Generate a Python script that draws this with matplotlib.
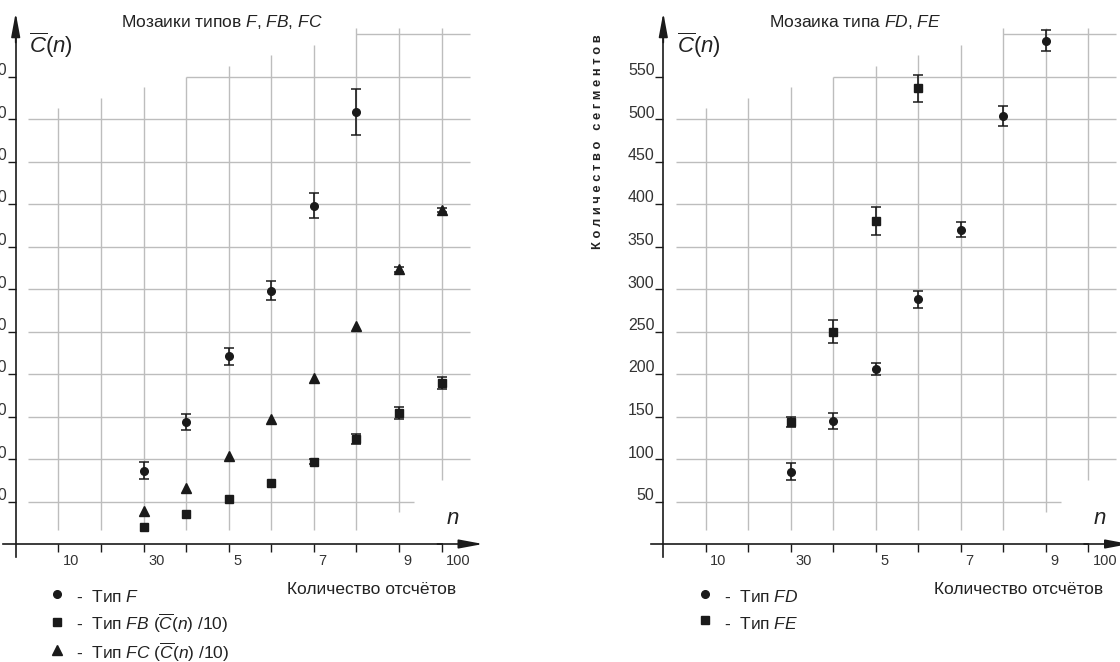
import matplotlib
matplotlib.use('Agg')
import matplotlib.pyplot as plt
import matplotlib.transforms as mtransforms

plt.rcParams['font.family'] = ['Liberation Sans', 'DejaVu Sans']
plt.rcParams['mathtext.fontset'] = 'custom'
plt.rcParams['mathtext.rm'] = 'Liberation Sans'
plt.rcParams['mathtext.it'] = 'Liberation Sans:italic'
plt.rcParams['mathtext.bf'] = 'Liberation Sans:bold'

nan = float('nan')

# ---- data ----
# left panel: mosaics F, FB, FC
f_n = [30, 40, 50, 60, 70, 80]
f_mean = [86, 144, 221, 298, 398, 508]
f_err = [10, 9.5, 10, 11, 15, 27]

fb_n = [30, 40, 50, 60, 70, 80, 90, 100]
fb_mean = [20, 35, 53, 72, 97, 124, 154, 189]
fb_err = [nan, nan, nan, nan, 3, 6, 7.5, 7]

fc_n = [30, 40, 50, 60, 70, 80, 90, 100]
fc_mean = [39, 65.5, 104, 147.5, 195, 256.5, 323, 393]
fc_err = [nan, nan, nan, nan, nan, nan, 3, 2]

# right panel: mosaics FD, FE
fd_n = [30, 40, 50, 60, 70, 80, 90]
fd_mean = [85, 145, 206, 288, 370, 503.5, 592]
fd_err = [10, 9.5, 7.5, 10, 8.5, 11.5, 12.5]

fe_n = [30, 40, 50, 60]
fe_mean = [144, 250, 380, 536]
fe_err = [6, 13, 17, 16]

y_ticks = [50, 100, 150, 200, 250, 300, 350, 400, 450, 500, 550]
x_ticks = [10, 20, 30, 40, 50, 60, 70, 80, 90, 100]
x_ticklabels = ['10', '', '30', '', '5', '', '7', '', '9', '100']

# ---- grid layout of the original drawing (staircase shaped) ----
vgrid_top = [513, 525, 538, 550, 562, 575, 587, 607, 607, 607]
vgrid_bottom = [16, 16, 16, 16, 16, 16, 16, 16, 38, 75]
hgrid_start = [3, 3, 3, 3, 3, 3, 3, 3, 3, 3, 40]
hgrid_end = [93.5, 106.6, 106.6, 106.6, 106.6, 106.6, 106.6, 106.6, 106.6, 106.6, 106.6]

GRID = '#bdbdbd'
INK = '#1a1a1a'
W, H = 1120, 662

fig = plt.figure(figsize=(W / 100, H / 100), dpi=100)


def make_axes(x0_px, ppu):
    # axes placed so that data x=0 sits at x0_px, y=0 at 544 px from top
    xlo, xhi = -3.5, 112
    ylo, yhi = -20, 630
    left = (x0_px + xlo * ppu) / W
    width = (xhi - xlo) * ppu / W
    bottom = (H - (544 - ylo * 0.85)) / H
    height = (yhi - ylo) * 0.85 / H
    ax = fig.add_axes([left, bottom, width, height])
    ax.set_xlim(xlo, xhi)
    ax.set_ylim(ylo, yhi)
    ax.patch.set_visible(False)
    return ax


def decorate(ax, title):
    # grid
    ax.vlines(x_ticks, vgrid_bottom, vgrid_top, color=GRID, lw=1.0, zorder=1)
    ax.hlines(y_ticks, hgrid_start, hgrid_end, color=GRID, lw=1.0, zorder=1)
    ax.hlines([600], [80], [106.6], color=GRID, lw=1.0, zorder=1)

    # axes lines through the origin
    for s in ['top', 'right']:
        ax.spines[s].set_visible(False)
    ax.spines['left'].set_position(('data', 0))
    ax.spines['bottom'].set_position(('data', 0))
    ax.spines['left'].set_bounds(-15, 600)
    ax.spines['bottom'].set_bounds(-3, 100)
    for s in ['left', 'bottom']:
        ax.spines[s].set_linewidth(1.2)
        ax.spines[s].set_color(INK)
    arrow = dict(arrowstyle='-|>,head_length=1.45,head_width=0.27', color=INK,
                 lw=1.2, shrinkA=0, shrinkB=0, mutation_scale=10)
    ax.annotate('', xy=(0, 625), xytext=(0, 590), arrowprops=arrow,
                annotation_clip=False)
    ax.annotate('', xy=(109.7, 0), xytext=(99, 0), arrowprops=arrow,
                annotation_clip=False)

    # ticks
    ax.set_yticks(y_ticks)
    ax.set_yticklabels([str(v) for v in y_ticks])
    ax.set_xticks(x_ticks)
    ax.set_xticklabels(x_ticklabels)
    ax.tick_params(axis='y', direction='out', length=5.8, width=1.0, pad=0.5,
                   labelsize=11.5, labelcolor='#333333', color=INK)
    ax.tick_params(axis='x', direction='out', length=6.0, width=1.0, pad=1.0,
                   labelsize=10.5, labelcolor='#333333', color=INK)
    up = mtransforms.ScaledTranslation(0, 0.015, fig.dpi_scale_trans)
    for lab in ax.get_yticklabels():
        lab.set_verticalalignment('baseline')
        lab.set_transform(lab.get_transform() + up)
    right = mtransforms.ScaledTranslation(0.045, 0, fig.dpi_scale_trans)
    for lab in ax.get_xticklabels():
        lab.set_horizontalalignment('left')
        lab.set_transform(lab.get_transform() + right)

    # texts
    ax.text(24.8, 614, title, fontsize=12.5, color='#222222', va='center', ha='left')
    ax.text(3.2, 587, r'$\overline{C}(n)$', fontsize=16, color='#222222',
            va='center', ha='left')
    ax.text(101, 30.5, r'$n$', fontsize=16, color='#222222', va='center', ha='left')
    ax.text(63.8, -54, 'Количество отсчётов', fontsize=12.5, color='#222222',
            va='center', ha='left')


def add_legend(ax, handles, labels):
    ax.legend(handles, labels, loc='upper left', bbox_to_anchor=(7.75, -48.5),
              bbox_transform=ax.transData, frameon=False, fontsize=12.5,
              handlelength=1.0, handleheight=1.6, handletextpad=0.6,
              borderpad=0, borderaxespad=0, labelspacing=0.26,
              labelcolor='#222222')


err_kw = dict(ls='none', color=INK, ecolor=INK, elinewidth=1.2, capsize=3.6,
              capthick=1.1, zorder=3)

# ---- left panel ----
axl = make_axes(15.7, 4.26)
decorate(axl, r'Мозаики типов $F$, $FB$, $FC$')
hf = axl.errorbar(f_n, f_mean, yerr=f_err, fmt='o', ms=5.5, **err_kw)
hb = axl.errorbar(fb_n, fb_mean, yerr=fb_err, fmt='s', ms=5.4, **err_kw)
hc = axl.errorbar(fc_n, fc_mean, yerr=fc_err, fmt='^', ms=6.6, **err_kw)
add_legend(axl, [hf[0], hb[0], hc[0]],
           [r'-  Тип $F$',
            r'-  Тип $FB$ ($\overline{C}\mathit{(n)}$ /10)',
            r'-  Тип $FC$ ($\overline{C}\mathit{(n)}$ /10)'])

# ---- right panel ----
axr = make_axes(663.3, 4.25)
decorate(axr, r'Мозаика типа $FD$, $FE$')
hd = axr.errorbar(fd_n, fd_mean, yerr=fd_err, fmt='o', ms=5.5, **err_kw)
he = axr.errorbar(fe_n, fe_mean, yerr=fe_err, fmt='s', ms=5.4, **err_kw)
add_legend(axr, [hd[0], he[0]], [r'-  Тип $FD$', r'-  Тип $FE$'])

fig.text(598 / W, 1 - 142 / H, ' '.join('Количество сегментов'), rotation=90,
         fontsize=9.3, fontweight='bold', color='#222222', ha='center', va='center')

fig.savefig('out.png', dpi=100)
